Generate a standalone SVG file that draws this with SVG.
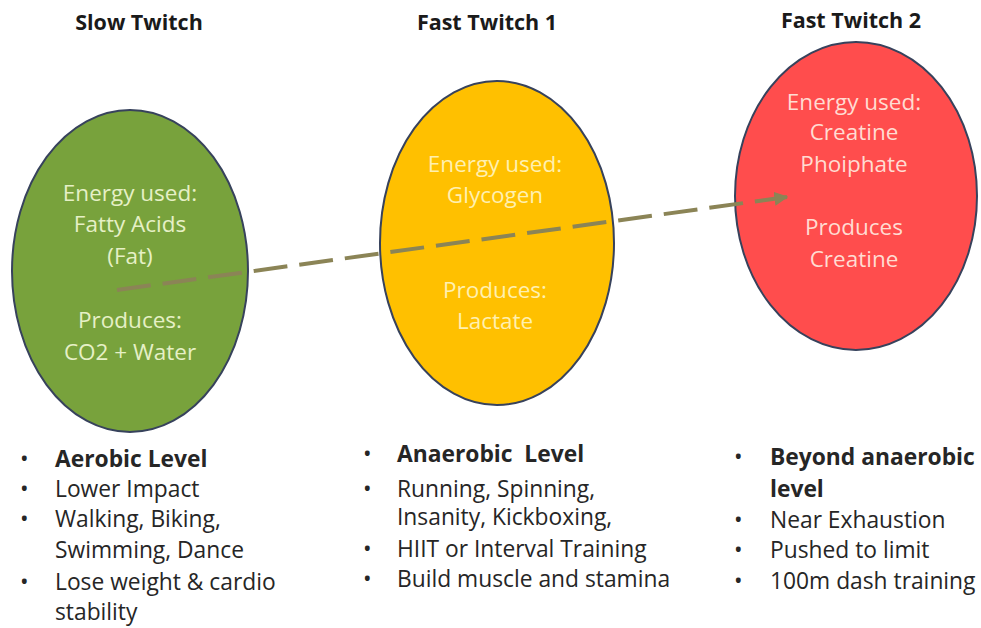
<svg xmlns="http://www.w3.org/2000/svg" width="981" height="628" viewBox="0 0 981 628">
  <defs>
    <style>
      .title { font-family: "Open Sans", "Liberation Sans", sans-serif; font-weight: bold; font-size: 21.5px; fill: #1a1a1a; text-anchor: middle; }
      .inner { font-family: "Open Sans", "Liberation Sans", sans-serif; font-size: 22.5px; text-anchor: middle; }
      .blt { font-family: "Open Sans", "Liberation Sans", sans-serif; font-size: 22.8px; fill: #262626; }
      .b { font-weight: bold; }
      .oval { stroke: #37425c; stroke-width: 2; }
    </style>
    <marker id="arr" viewBox="0 0 10 10" refX="9" refY="5" markerWidth="3.5" markerHeight="3.5" orient="auto" markerUnits="strokeWidth">
      <path d="M0,0 L10,5 L0,10 z" fill="#8b8456"/>
    </marker>
  </defs>
  <rect width="981" height="628" fill="#ffffff"/>

  <g id="slow-twitch">
    <text class="title" x="139" y="30">Slow Twitch</text>
    <ellipse class="oval" cx="130" cy="271" rx="118" ry="161" fill="#78a23c"/>
    <g class="inner" fill="#e6f0c6">
      <text x="130" y="201">Energy used:</text>
      <text x="130" y="232">Fatty Acids</text>
      <text x="130" y="264">(Fat)</text>
      <text x="130" y="328">Produces:</text>
      <text x="130" y="360">CO2 + Water</text>
    </g>
    <g class="blt">
      <text x="20" y="467">•</text><text class="b" x="55" y="467">Aerobic Level</text>
      <text x="20" y="497">•</text><text x="55" y="497">Lower Impact</text>
      <text x="20" y="527">•</text><text x="55" y="527">Walking, Biking,</text>
      <text x="55" y="558">Swimming, Dance</text>
      <text x="20" y="590">•</text><text x="55" y="590">Lose weight &amp; cardio</text>
      <text x="55" y="620">stability</text>
    </g>
  </g>

  <g id="fast-twitch-1">
    <text class="title" x="487" y="30">Fast Twitch 1</text>
    <ellipse class="oval" cx="497" cy="243" rx="117" ry="162" fill="#ffc000"/>
    <g class="inner" fill="#fff0b0">
      <text x="495" y="172">Energy used:</text>
      <text x="495" y="203">Glycogen</text>
      <text x="495" y="298">Produces:</text>
      <text x="495" y="329">Lactate</text>
    </g>
    <g class="blt">
      <text x="363" y="462">•</text><text class="b" x="397" y="462" xml:space="preserve">Anaerobic  Level</text>
      <text x="363" y="497">•</text><text x="397" y="497">Running, Spinning,</text>
      <text x="397" y="525">Insanity, Kickboxing,</text>
      <text x="363" y="557">•</text><text x="397" y="557">HIIT or Interval Training</text>
      <text x="363" y="587">•</text><text x="397" y="587">Build muscle and stamina</text>
    </g>
  </g>

  <g id="fast-twitch-2">
    <text class="title" x="851" y="28">Fast Twitch 2</text>
    <ellipse class="oval" cx="856" cy="196" rx="121" ry="154" fill="#ff4d4d"/>
    <g class="inner" fill="#ffdcd2">
      <text x="854" y="110">Energy used:</text>
      <text x="854" y="140">Creatine</text>
      <text x="854" y="172">Phoiphate</text>
      <text x="854" y="235">Produces</text>
      <text x="854" y="267">Creatine</text>
    </g>
    <g class="blt">
      <text x="734" y="465">•</text><text class="b" x="770" y="465">Beyond anaerobic</text>
      <text class="b" x="770" y="497">level</text>
      <text x="734" y="528">•</text><text x="770" y="528">Near Exhaustion</text>
      <text x="734" y="558">•</text><text x="770" y="558">Pushed to limit</text>
      <text x="734" y="589">•</text><text x="770" y="589">100m dash training</text>
    </g>
  </g>

  <g id="connectors">
    <line x1="117" y1="290" x2="787" y2="197" stroke="#8b8456" stroke-width="4" stroke-dasharray="34 12" marker-end="url(#arr)"/>
  </g>
</svg>
